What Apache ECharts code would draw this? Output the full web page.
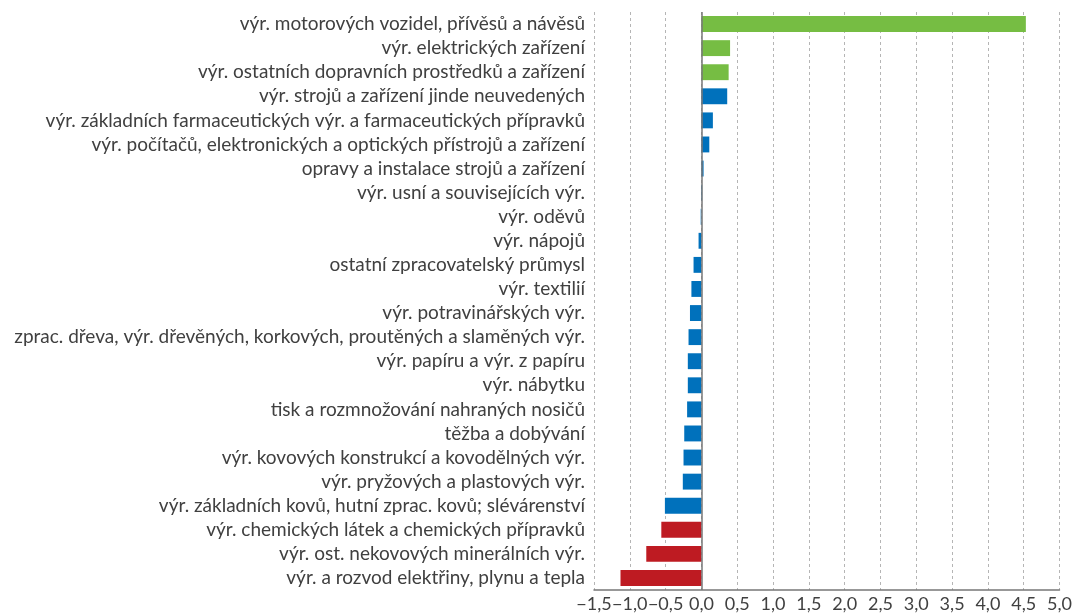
<!DOCTYPE html>
<html>
<head>
<meta charset="utf-8">
<script src="https://cdn.jsdelivr.net/npm/echarts@6/dist/echarts.min.js"></script>
<style>
  html, body { margin: 0; padding: 0; background: #fff; }
  #chart { width: 1075px; height: 613px; }
</style>
</head>
<body>
<div id="chart"></div>
<script>
// kategorie shora dolů
const categories = [
  'výr. motorových vozidel, přívěsů a návěsů',
  'výr. elektrických zařízení',
  'výr. ostatních dopravních prostředků a zařízení',
  'výr. strojů a zařízení jinde neuvedených',
  'výr. základních farmaceutických výr. a farmaceutických přípravků',
  'výr. počítačů, elektronických a optických přístrojů a zařízení',
  'opravy a instalace strojů a zařízení',
  'výr. usní a souvisejících výr.',
  'výr. oděvů',
  'výr. nápojů',
  'ostatní zpracovatelský průmysl',
  'výr. textilií',
  'výr. potravinářských výr.',
  'zprac. dřeva, výr. dřevěných, korkových, proutěných a slaměných výr.',
  'výr. papíru a výr. z papíru',
  'výr. nábytku',
  'tisk a rozmnožování nahraných nosičů',
  'těžba a dobývání',
  'výr. kovových konstrukcí a kovodělných výr.',
  'výr. pryžových a plastových výr.',
  'výr. základních kovů, hutní zprac. kovů; slévárenství',
  'výr. chemických látek a chemických přípravků',
  'výr. ost. nekovových minerálních výr.',
  'výr. a rozvod elektřiny, plynu a tepla'
]
const values = [
  4.53, 0.40, 0.38, 0.36, 0.16, 0.11, 0.03, 0.01,
  -0.01, -0.04, -0.11, -0.14, -0.16, -0.18, -0.19, -0.19,
  -0.20, -0.24, -0.25, -0.26, -0.51, -0.56, -0.77, -1.13
]
// skupina barvy: g = zelená, b = modrá, r = červená
const groups = [
  'g', 'g', 'g', 'b', 'b', 'b', 'b', 'b',
  'b', 'b', 'b', 'b', 'b', 'b', 'b', 'b',
  'b', 'b', 'b', 'b', 'b', 'r', 'r', 'r'
]
const colors = { g: '#76bd43', b: '#0071bc', r: '#be1b22' }

const chart = echarts.init(document.getElementById('chart'))
const font = 'Lato'

chart.setOption({
  animation: false,
  grid: { left: 594, right: 14, top: 12, bottom: 22 },
  xAxis: {
    type: 'value',
    min: -1.5,
    max: 5,
    interval: 0.5,
    axisLine: { show: true, lineStyle: { color: '#777', width: 1.5 } },
    axisTick: { show: false },
    axisLabel: {
      color: '#404040',
      fontFamily: font,
      fontSize: 18,
      margin: 5,
      hideOverlap: false,
      showMinLabel: true,
      showMaxLabel: true,
      formatter: v => (v < 0 ? '\u2212' : '') + Math.abs(v).toFixed(1).replace('.', ',')
    },
    splitLine: { show: true, lineStyle: { color: '#b5b5b5', type: [3, 3] } }
  },
  yAxis: {
    type: 'category',
    inverse: true,
    data: categories,
    axisLine: { show: false, onZero: false },
    axisTick: { show: false },
    axisLabel: { color: '#404040', fontFamily: font, fontSize: 19, margin: 9, interval: 0 }
  },
  series: [{
    type: 'bar',
    barWidth: '66%',
    data: values.map((v, i) => ({ value: v, itemStyle: { color: colors[groups[i]] } })),
    markLine: {
      silent: true,
      symbol: 'none',
      label: { show: false },
      lineStyle: { color: '#777', type: 'solid', width: 1.5 },
      data: [{ xAxis: 0 }]
    }
  }]
})
</script>
</body>
</html>
